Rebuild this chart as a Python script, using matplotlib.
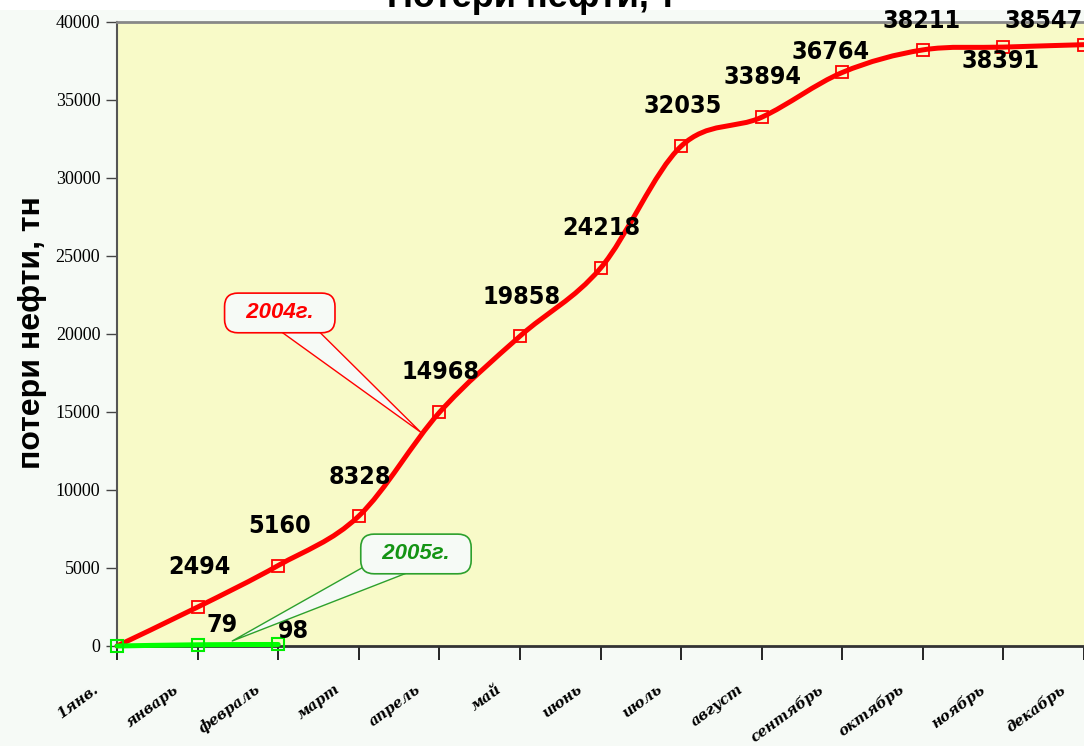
import matplotlib
matplotlib.use('Agg')
import matplotlib.pyplot as plt
import numpy as np
from matplotlib.path import Path
from matplotlib.patches import PathPatch, Rectangle
from matplotlib.transforms import ScaledTranslation

# data
months = ['1янв.', 'январь', 'февраль', 'март', 'апрель', 'май', 'июнь',
          'июль', 'август', 'сентябрь', 'октябрь', 'ноябрь', 'декабрь']
loss_2004 = [0, 2494, 5160, 8328, 14968, 19858, 24218, 32035, 33894,
             36764, 38211, 38391, 38547]
loss_2005 = [0, 79, 98]
labels_2005 = ['', '79', '98']

# label offsets (pixels) for the value labels
off_2004 = [None, (2, 40), (1, 40), (1, 39), (1, 40), (2, 39), (1, 40),
            (2, 40), (1, 40), (-12, 20), (-1, 29), (-3, -14), (-40, 24)]
off_2005 = [None, (24, 20), (15, 13)]


def smooth_path(xs, ys):
    # Catmull-Rom style bezier through the points (like excel's smoothed line)
    pts = np.column_stack([xs, ys]).astype(float)
    n = len(pts)
    verts = [pts[0]]
    codes = [Path.MOVETO]
    for i in range(n - 1):
        p0 = pts[i - 1] if i > 0 else pts[i]
        p1 = pts[i]
        p2 = pts[i + 1]
        p3 = pts[i + 2] if i + 2 < n else pts[i + 1]
        c1 = p1 + (p2 - p0) / 6.0
        c2 = p2 - (p3 - p1) / 6.0
        verts += [c1, c2, p2]
        codes += [Path.CURVE4] * 3
    return Path(verts, codes)


fig = plt.figure(figsize=(10.84, 7.46), dpi=100, facecolor='#F6FAF6')
fig.patches.append(Rectangle((0, 1 - 10 / 746), 1, 10 / 746, transform=fig.transFigure,
                             facecolor='white', edgecolor='none', zorder=0))
ax = fig.add_axes([117 / 1084, 1 - 646 / 746, 1 - 117 / 1084, (646 - 22) / 746])
ax.set_facecolor('#F8FAC8')

x04 = np.arange(len(loss_2004))
x05 = np.arange(len(loss_2005))

ax.add_patch(PathPatch(smooth_path(x04, loss_2004), fill=False, edgecolor='#FF0000',
                       lw=3.6, capstyle='round', joinstyle='round', zorder=3, clip_on=False))
ax.plot(x04, loss_2004, ls='none', marker='s', ms=8, mfc='none', mec='#FF0000',
        mew=1.3, zorder=4, clip_on=False)

ax.add_patch(PathPatch(smooth_path(x05, loss_2005), fill=False, edgecolor='#00FF00',
                       lw=3.6, capstyle='round', zorder=5, clip_on=False))
ax.plot(x05, loss_2005, ls='none', marker='s', ms=8, mfc='none', mec='#00EE00',
        mew=1.5, zorder=6, clip_on=False)

lab_font = dict(family=['DejaVu Sans'], fontstretch='condensed', fontsize=18,
                fontweight='bold', color='black')
for i, v in enumerate(loss_2004):
    if off_2004[i] is None:
        continue
    ax.annotate(str(v), (x04[i], v), xytext=off_2004[i], textcoords='offset pixels',
                ha='center', va='center', zorder=7, annotation_clip=False, **lab_font)
for i, v in enumerate(loss_2005):
    if off_2005[i] is None:
        continue
    ax.annotate(labels_2005[i], (x05[i], v), xytext=off_2005[i], textcoords='offset pixels',
                ha='center', va='center', zorder=7, annotation_clip=False, **lab_font)

# callouts
ax.annotate('  2004г.  ', xy=(3.77, 13700), xytext=(2.02, 21350), ha='center', va='center',
            fontsize=16, fontweight='bold', fontstyle='italic', color='#FF0000',
            family=['Liberation Sans', 'DejaVu Sans'],
            bbox=dict(boxstyle='round,pad=0.42,rounding_size=0.6', fc='#F6FAF6', ec='#FF0000', lw=1.2),
            arrowprops=dict(arrowstyle='wedge,tail_width=1.3', fc='#F6FAF6', ec='#FF0000',
                            lw=1.0, patchA=None, shrinkA=0, shrinkB=0),
            zorder=8)
ax.annotate('  2005г.  ', xy=(1.43, 320), xytext=(3.71, 5900), ha='center', va='center',
            fontsize=16, fontweight='bold', fontstyle='italic', color='#149414',
            family=['Liberation Sans', 'DejaVu Sans'],
            bbox=dict(boxstyle='round,pad=0.42,rounding_size=0.6', fc='#F6FAF6', ec='#2DA02D', lw=1.2),
            arrowprops=dict(arrowstyle='wedge,tail_width=1.3', fc='#F6FAF6', ec='#2DA02D',
                            lw=1.0, patchA=None, shrinkA=0, shrinkB=0),
            zorder=8)

ax.set_xlim(0, 12)
ax.set_ylim(0, 40000)
ax.set_yticks(np.arange(0, 40001, 5000))
ax.set_yticklabels([str(t) for t in range(0, 40001, 5000)],
                   family=['Liberation Serif', 'DejaVu Serif'], fontsize=13)
ax.tick_params(axis='y', direction='out', length=8, width=1, color='#444444', pad=4)

ax.set_xticks(x04)
ax.set_xticklabels(months, rotation=36, ha='right', va='center', rotation_mode='anchor',
                   family=['DejaVu Serif'], fontweight='bold', fontstyle='italic', fontsize=10.5)
ax.tick_params(axis='x', direction='out', length=10, width=1.2, color='black', pad=0)
for lbl in ax.get_xticklabels():
    lbl.set_transform(lbl.get_transform() + ScaledTranslation(-0.2, -0.28, fig.dpi_scale_trans))

ax.spines['right'].set_visible(False)
ax.spines['top'].set_color('#888888')
ax.spines['top'].set_linewidth(2)
ax.spines['left'].set_color('#555555')
ax.spines['left'].set_linewidth(1.5)
ax.spines['bottom'].set_color('#333333')
ax.spines['bottom'].set_linewidth(2)

fig.text(32 / 1084, 1 - 333 / 746, 'потери нефти, тн', rotation=90, ha='center', va='center',
         fontsize=23, fontweight='bold', family=['Liberation Sans', 'DejaVu Sans'])
fig.text(532 / 1084, 1 - 7 / 746, 'Потери нефти, т', ha='center', va='baseline',
         fontsize=26, fontweight='bold', family=['Liberation Sans', 'DejaVu Sans'])

fig.savefig('out.png', dpi=100, facecolor=fig.get_facecolor())
